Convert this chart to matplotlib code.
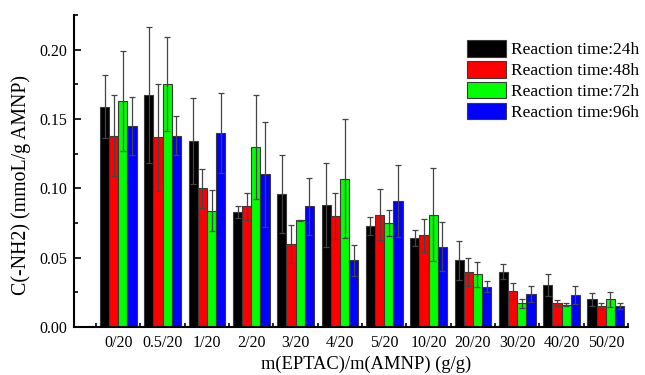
import matplotlib
matplotlib.use("Agg")
import matplotlib.pyplot as plt
import numpy as np
from matplotlib.ticker import MultipleLocator, FixedLocator

categories = ["0/20", "0.5/20", "1/20", "2/20", "3/20", "4/20", "5/20",
              "10/20", "20/20", "30/20", "40/20", "50/20"]
series_names = ["Reaction time:24h", "Reaction time:48h",
                "Reaction time:72h", "Reaction time:96h"]
colors = ["#000000", "#ff0000", "#00ff00", "#0000ff"]

t24 = [0.159, 0.167, 0.134, 0.083, 0.096, 0.088, 0.073, 0.064, 0.048, 0.040, 0.030, 0.020]
t48 = [0.138, 0.137, 0.100, 0.087, 0.060, 0.080, 0.081, 0.066, 0.040, 0.026, 0.017, 0.015]
t72 = [0.163, 0.175, 0.084, 0.130, 0.077, 0.107, 0.075, 0.081, 0.038, 0.017, 0.016, 0.020]
t96 = [0.145, 0.138, 0.140, 0.110, 0.087, 0.048, 0.091, 0.058, 0.029, 0.024, 0.023, 0.015]

e24 = [0.023, 0.049, 0.031, 0.0043, 0.028, 0.030, 0.0063, 0.0058, 0.014, 0.0055, 0.008, 0.0046]
e48 = [0.029, 0.0386, 0.014, 0.0099, 0.0135, 0.0166, 0.0186, 0.0116, 0.0101, 0.006, 0.0022, 0.002]
e72 = [0.036, 0.034, 0.0147, 0.0376, 0.0005, 0.0429, 0.0092, 0.0335, 0.0089, 0.0034, 0.001, 0.0053]
e96 = [0.0207, 0.014, 0.029, 0.038, 0.0207, 0.0113, 0.026, 0.0178, 0.0041, 0.0058, 0.0063, 0.0022]

values = [t24, t48, t72, t96]
errors = [e24, e48, e72, e96]

plt.rcParams['font.family'] = ['Liberation Serif', 'DejaVu Serif']

fig = plt.figure(figsize=(6.45, 3.75), dpi=100)
ax = fig.add_axes([74/645, 1-327/375, (628-74)/645, (327-15)/375])

x = np.arange(1, len(categories) + 1)
w = 0.207
offsets = [-1.5*w, -0.5*w, 0.5*w, 1.5*w]
handles = []
for vals, errs, c, off, name in zip(values, errors, colors, offsets, series_names):
    b = ax.bar(x + off, vals, width=w, color=c, edgecolor="#3a3a3a",
               linewidth=0.8, label=name, zorder=2)
    ax.errorbar(x + off, vals, yerr=errs, fmt='none', ecolor="#444444",
                elinewidth=0.9, capsize=2.5, capthick=0.9, zorder=3)
    handles.append(b)

ax.set_xlim(0, 12.5)
ax.set_ylim(0, 0.225)
ax.set_xticks(x)
ax.set_xticklabels(categories)
ax.xaxis.set_minor_locator(FixedLocator(np.arange(0.5, 12.6, 1.0)))
ax.yaxis.set_major_locator(MultipleLocator(0.05))
ax.yaxis.set_minor_locator(MultipleLocator(0.025))
ax.yaxis.set_major_formatter(matplotlib.ticker.FormatStrFormatter('%.2f'))

for s in ['top', 'right']:
    ax.spines[s].set_visible(False)
for s in ['left', 'bottom']:
    ax.spines[s].set_linewidth(1.5)

ax.tick_params(axis='both', which='major', direction='in', length=5, width=1.2, labelsize=11.5)
ax.tick_params(axis='both', which='minor', direction='in', length=3, width=1.2)
ax.tick_params(axis='x', which='major', pad=6)
ax.tick_params(axis='y', which='major', pad=5)

ax.set_xlabel("m(EPTAC)/m(AMNP) (g/g)", fontsize=13.3)
ax.xaxis.set_label_coords(0.528, -0.092)
ax.set_ylabel("C(-NH2) (mmoL/g AMNP)", fontsize=14.3)
ax.yaxis.set_label_coords(-0.078, 0.455)

leg = fig.legend(handles=handles, labels=series_names, loc='upper left',
                 bbox_to_anchor=(467/645, 1-40/375), frameon=False,
                 fontsize=12.5, handlelength=2.25, handleheight=1.1,
                 handletextpad=0.3, labelspacing=0.15, borderpad=0,
                 borderaxespad=0)

fig.savefig("out.png", dpi=100)
